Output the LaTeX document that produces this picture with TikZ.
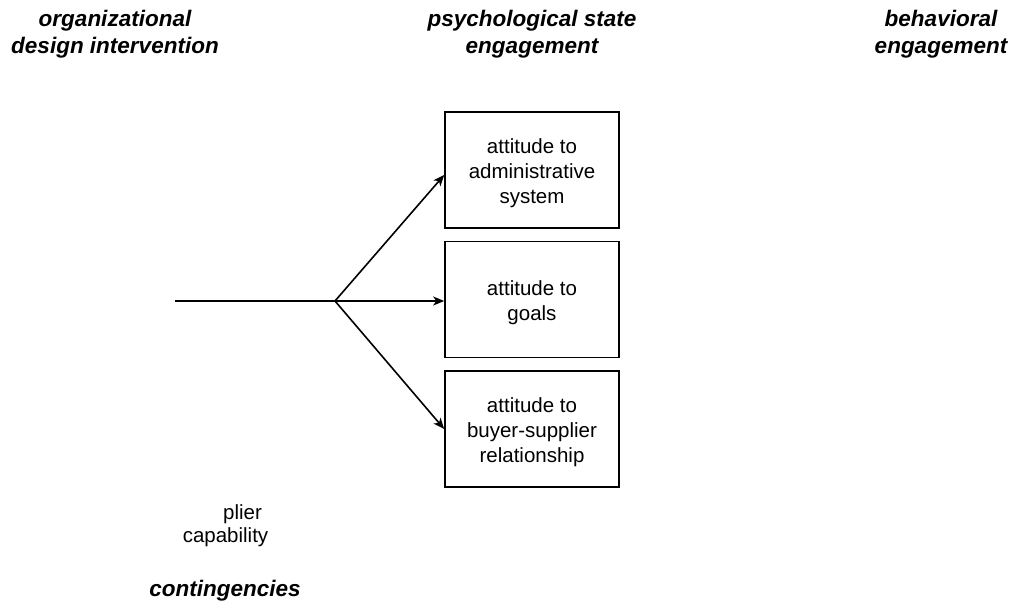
\documentclass[tikz,border=0pt]{standalone}
\usepackage{fontspec}
\setmainfont{Liberation Sans}
\usetikzlibrary{arrows.meta}
\tikzset{
  box/.style={draw, line width=1.6pt, minimum width=174pt, minimum height=116pt, inner sep=0pt},
  boxtext/.style={align=center, inner sep=0pt, font=\fontsize{20.5}{25}\selectfont},
  heading/.style={align=center, inner sep=0pt, font=\fontsize{22.5}{27}\selectfont\bfseries\itshape},
  plain/.style={inner sep=0pt, font=\fontsize{20.5}{23}\selectfont},
  conn/.style={line width=1.6pt},
  arr/.style={conn, -{Stealth[length=11pt,width=9pt,inset=3pt]}}
}
\begin{document}
\begin{tikzpicture}[x=1pt,y=-1pt]
\useasboundingbox (0,0) rectangle (1013,604);
\node[heading] (h1) at (115,34) {organizational\\design intervention};
\node[heading] (h2) at (532,34) {psychological state\\engagement};
\node[heading] (h3) at (941,34) {behavioral\\engagement};
\node[box] (box1) at (532,170) {};
\node[box] (box2) at (532,299.5) {};
\node[box] (box3) at (532,429) {};
\node[boxtext] (box1text) at ([yshift=-3.5pt]box1.center) {attitude to\\administrative\\system};
\node[boxtext] (box2text) at ([yshift=-3.5pt]box2.center) {attitude to\\goals};
\node[boxtext] (box3text) at ([yshift=-3.5pt]box3.center) {attitude to\\buyer-supplier\\relationship};
\coordinate (start) at (175,301);
\coordinate (branch) at (335,301);
\draw[conn] (start) -- (branch);
\draw[arr] (branch) -- ([yshift=-5pt]box1.west);
\draw[arr] (branch) -- (box2.west |- branch);
\draw[arr] (branch) -- (box3.west);
\node[plain] (t1) at (242.5,514) {plier};
\node[plain] (t2) at (225.5,537) {capability};
\node[heading] (t3) at (225,591) {contingencies};
\end{tikzpicture}
\end{document}
